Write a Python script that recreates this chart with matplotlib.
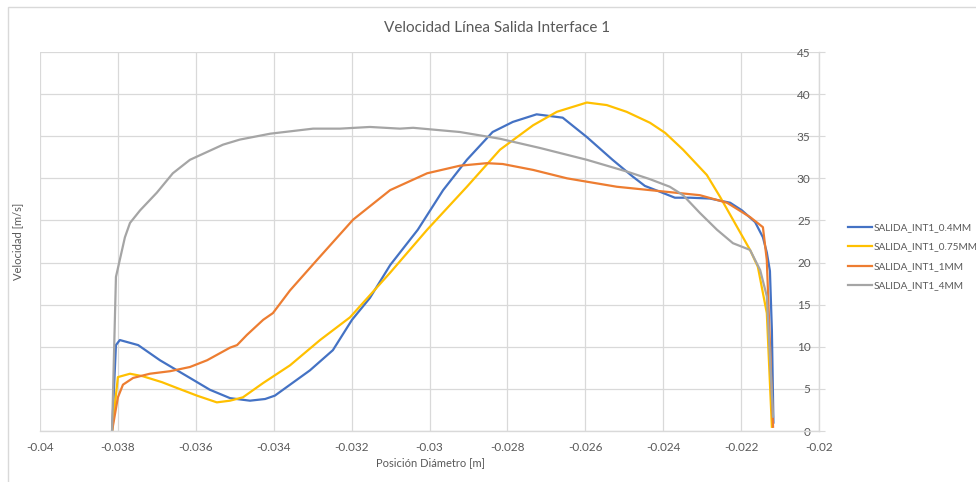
import matplotlib

matplotlib.use("Agg")
import matplotlib.pyplot as plt  # noqa: E402
from matplotlib.patches import Rectangle  # noqa: E402

plt.rcParams["font.family"] = ["Lato", "DejaVu Sans"]

# values
x_04 = [-0.03815, -0.03805, -0.03795, -0.03748, -0.03692, -0.03615, -0.03564,
        -0.03512, -0.03461, -0.03422, -0.03397, -0.03358, -0.03307, -0.03248,
        -0.03199, -0.03153, -0.03101, -0.03030, -0.02965, -0.02904, -0.02838,
        -0.02786, -0.02725, -0.02658, -0.02596, -0.02530, -0.02478, -0.02447,
        -0.02408, -0.02370, -0.02331, -0.02280, -0.02228, -0.02198, -0.02164,
        -0.02144, -0.02134, -0.02126, -0.02121, -0.02117]
y_04 = [0.0, 10.2, 10.8, 10.2, 8.4, 6.3, 4.9,
        3.9, 3.6, 3.8, 4.2, 5.5, 7.2, 9.6,
        13.2, 15.8, 19.7, 23.9, 28.6, 32.2, 35.5,
        36.7, 37.6, 37.2, 34.9, 32.2, 30.2, 29.1,
        28.4, 27.7, 27.7, 27.6, 27.1, 26.2, 24.8,
        23.0, 21.2, 19.0, 12.0, 1.0]

x_075 = [-0.03815, -0.03800, -0.03769, -0.03736, -0.03687, -0.03648, -0.03597,
         -0.03546, -0.03512, -0.03479, -0.03427, -0.03358, -0.03281, -0.03204,
         -0.03101, -0.03006, -0.02904, -0.02819, -0.02734, -0.02673, -0.02596,
         -0.02545, -0.02494, -0.02434, -0.02395, -0.02349, -0.02288, -0.02254,
         -0.02221, -0.02177, -0.02157, -0.02134, -0.02121]
y_075 = [0.0, 6.4, 6.8, 6.5, 5.8, 5.1, 4.2,
         3.4, 3.6, 4.0, 5.7, 7.8, 10.8, 13.5,
         18.8, 23.9, 29.0, 33.4, 36.3, 37.9, 39.0,
         38.7, 37.9, 36.6, 35.4, 33.4, 30.4, 27.8,
         25.1, 21.5, 19.5, 14.0, 0.5]

x_1 = [-0.03815, -0.03800, -0.03787, -0.03761, -0.03718, -0.03666, -0.03615,
       -0.03571, -0.03512, -0.03494, -0.03469, -0.03427, -0.03402, -0.03358,
       -0.03289, -0.03196, -0.03101, -0.03006, -0.02922, -0.02853, -0.02812,
       -0.02734, -0.02647, -0.02596, -0.02519, -0.02434, -0.02306, -0.02236,
       -0.02177, -0.02144, -0.02134, -0.02118]
y_1 = [0.0, 4.0, 5.5, 6.3, 6.8, 7.1, 7.6,
       8.4, 9.9, 10.2, 11.4, 13.2, 14.0, 16.7,
       20.3, 25.1, 28.6, 30.6, 31.5, 31.8, 31.7,
       31.0, 30.0, 29.6, 29.0, 28.6, 28.0, 27.1,
       25.4, 24.2, 20.3, 0.5]

x_4 = [-0.03815, -0.03805, -0.03782, -0.03769, -0.03743, -0.03700, -0.03659,
       -0.03615, -0.03530, -0.03487, -0.03409, -0.03299, -0.03230, -0.03153,
       -0.03076, -0.03042, -0.02922, -0.02819, -0.02716, -0.02596, -0.02493,
       -0.02434, -0.02383, -0.02349, -0.02306, -0.02262, -0.02221, -0.02177,
       -0.02151, -0.02134, -0.02118]
y_4 = [0.0, 18.3, 23.0, 24.7, 26.2, 28.3, 30.6,
       32.2, 34.0, 34.6, 35.3, 35.9, 35.9, 36.1,
       35.9, 36.0, 35.5, 34.7, 33.6, 32.2, 30.8,
       29.9, 29.0, 28.0, 25.9, 23.9, 22.3, 21.5,
       19.1, 16.0, 1.7]

series = [
    ("SALIDA_INT1_0.4MM", x_04, y_04, "#4472C4"),
    ("SALIDA_INT1_0.75MM", x_075, y_075, "#FFC000"),
    ("SALIDA_INT1_1MM", x_1, y_1, "#ED7D31"),
    ("SALIDA_INT1_4MM", x_4, y_4, "#A5A5A5"),
]

x_ticks = [-0.04, -0.038, -0.036, -0.034, -0.032, -0.03, -0.028, -0.026,
           -0.024, -0.022, -0.02]
x_tick_labels = ["-0.04", "-0.038", "-0.036", "-0.034", "-0.032", "-0.03",
                 "-0.028", "-0.026", "-0.024", "-0.022", "-0.02"]
y_ticks = [0, 5, 10, 15, 20, 25, 30, 35, 40, 45]

W, H = 976, 482
txt = "#595959"
grid = "#D9D9D9"

fig = plt.figure(figsize=(W / 100, H / 100), dpi=100)
fig.patches.append(Rectangle((8 / W, -0.1), 1.2, 1 - 7 / H + 0.1,
                             transform=fig.transFigure, fill=False,
                             edgecolor=grid, lw=1.0))
ax = fig.add_axes([40 / W, 1 - 431 / H, (819 - 40) / W, (431 - 52) / H])

for name, xs, ys, col in series:
    ax.plot(xs, ys, color=col, lw=1.6, label=name, solid_joinstyle="round")

ax.set_xlim(-0.04, -0.02)
ax.set_ylim(0, 45)
ax.set_xticks(x_ticks)
ax.set_xticklabels(x_tick_labels)
ax.set_yticks(y_ticks)
ax.grid(True, color=grid, lw=0.9)
ax.set_axisbelow(True)
for side in ("left", "top"):
    ax.spines[side].set_visible(False)
for side in ("bottom", "right"):
    ax.spines[side].set_color(grid)
    ax.spines[side].set_linewidth(1.0)

ax.tick_params(axis="x", length=0, pad=8, labelsize=8.5, colors=txt)
ax.tick_params(axis="y", left=False, labelleft=False, right=True,
               labelright=True, length=4, color=grid, pad=-10,
               labelsize=8.5, colors=txt)
for lab in ax.get_yticklabels():
    lab.set_horizontalalignment("right")

fig.text(497 / W, 1 - 28 / H, "Velocidad Línea Salida Interface 1",
         ha="center", va="center", fontsize=11, color=txt)
fig.text(430 / W, 1 - 463 / H, "Posición Diámetro [m]",
         ha="center", va="center", fontsize=8, color=txt)
fig.text(18 / W, 1 - 241 / H, "Velocidad [m/s]", rotation=90,
         ha="center", va="center", fontsize=8, color=txt)

fig.legend(loc="upper left", bbox_to_anchor=(848 / W, 1 - 223 / H),
           frameon=False, fontsize=7.2, labelcolor=txt, handlelength=2.4,
           handletextpad=0.15, labelspacing=1.05, borderaxespad=0,
           borderpad=0)

fig.savefig("out.png", dpi=100)
